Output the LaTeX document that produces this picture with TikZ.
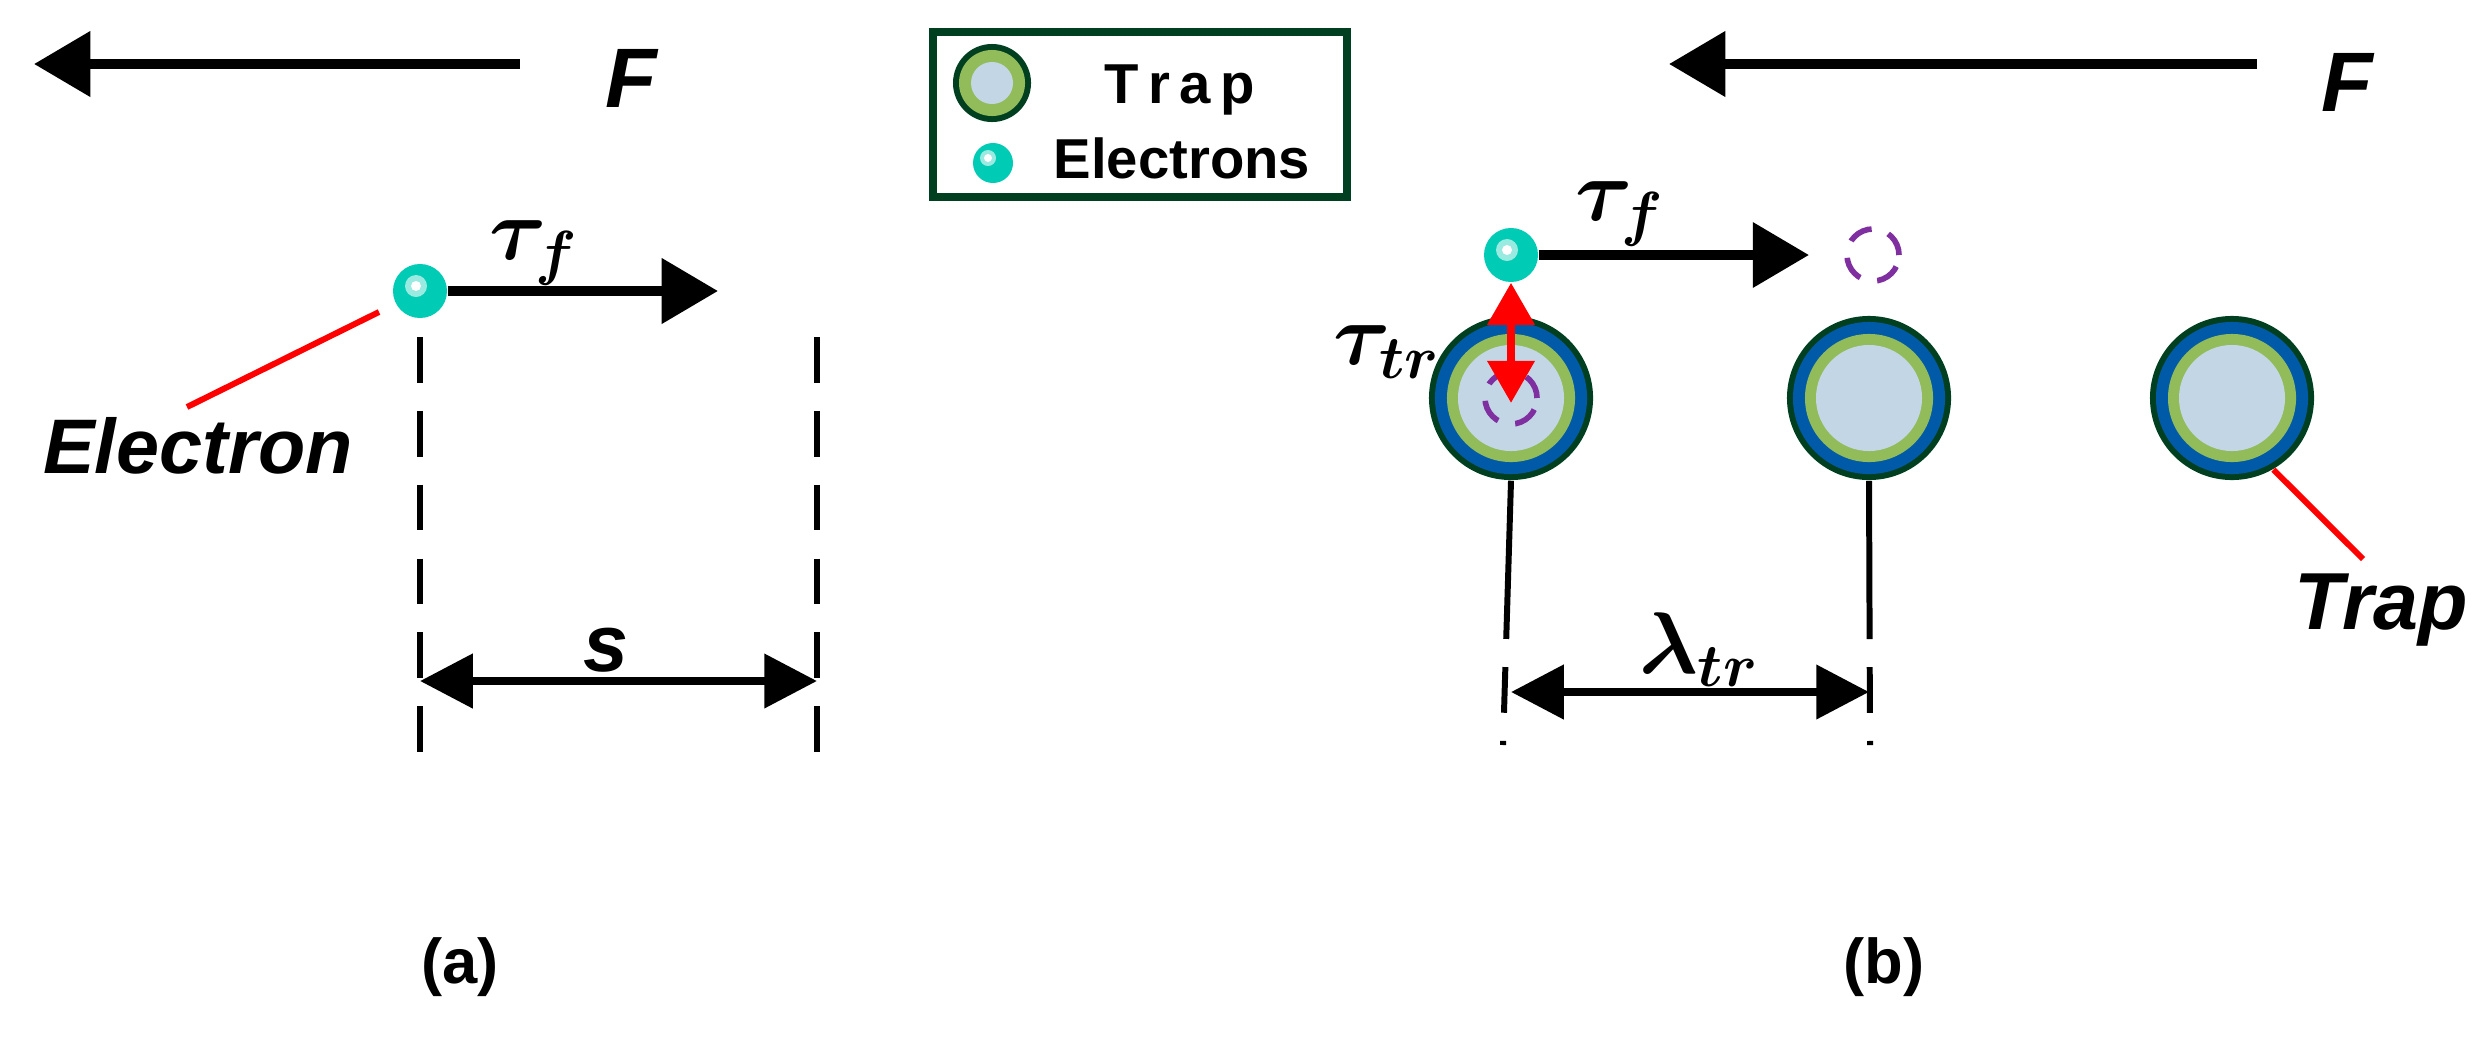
\documentclass[tikz,border=0pt]{standalone}
\usepackage{fontspec}
\usepackage{amsmath,bm}
\setmainfont{Liberation Sans}
\usetikzlibrary{arrows.meta}
\definecolor{dkg}{HTML}{004020}
\definecolor{tblue}{HTML}{005AA8}
\definecolor{tgreen}{HTML}{92BB5A}
\definecolor{tcore}{HTML}{C3D6E6}
\definecolor{teal}{HTML}{00CBB5}
\definecolor{purp}{HTML}{7F2FA0}
\begin{document}
\begin{tikzpicture}[x=0.01cm,y=-0.01cm,
  big/.style={line width=2.8pt,-{Triangle[length=16pt,width=18pt]}},
  dim/.style={line width=2.4pt,{Triangle[length=15pt,width=15pt]}-{Triangle[length=15pt,width=15pt]}},
  redarr/.style={red,line width=2.4pt,{Triangle[length=12pt,width=13pt]}-{Triangle[length=12pt,width=13pt]}},
  guide/.style={line width=1.7pt,dash pattern=on 13pt off 8pt},
  lead/.style={red,line width=1.7pt},
  elec/.style={circle,fill=teal,inner sep=0pt,minimum size=0.54cm},
  trapn/.style={circle,fill=dkg,inner sep=0pt,minimum size=1.64cm},
  ghost/.style={purp,line width=1.6pt,dash pattern=on 7pt off 5pt},
  lab/.style={font=\bfseries\itshape\fontsize{23}{26}\selectfont},
  leg/.style={font=\bfseries\fontsize{16}{18}\selectfont},
  mlab/.style={font=\fontsize{24}{28}\selectfont}]
\useasboundingbox (0,0) rectangle (2482,1036);
% ---------- F arrows ----------
\coordinate (fa1) at (520,64); \coordinate (fa2) at (34,64);
\draw[big] (fa1) -- (fa2);
\node[lab,font=\bfseries\itshape\fontsize{24}{28}\selectfont] (Fa) at (631,78) {F};
\coordinate (fb1) at (2257,64); \coordinate (fb2) at (1669,64);
\draw[big] (fb1) -- (fb2);
\node[lab,font=\bfseries\itshape\fontsize{24}{28}\selectfont] (Fb) at (2347,82) {F};
% ---------- legend ----------
\draw[dkg,line width=2.2pt] (933,32) rectangle (1347,197);
\node[circle,fill=dkg,inner sep=0pt,minimum size=0.78cm] (lt) at (992,83) {};
\fill[tgreen] (lt.center) circle (0.33cm);
\fill[tcore] (lt.center) circle (0.21cm);
\node[leg] (ltt) at (1180,90) {T\,r\,a\,p};
\node[circle,fill=teal,inner sep=0pt,minimum size=0.40cm] (le) at (993,163) {};
\fill[teal!40!white] ([shift={(-0.05cm,0.05cm)}]le.center) circle (0.08cm);
\fill[white] ([shift={(-0.05cm,0.05cm)}]le.center) circle (0.04cm);
\node[leg] (let) at (1182,158) {Electrons};
% ---------- (a) ----------
\node[elec] (ea) at (420,291) {};
\fill[teal!40!white] ([shift={(-0.04cm,0.05cm)}]ea.center) circle (0.11cm);
\fill[white] ([shift={(-0.04cm,0.05cm)}]ea.center) circle (0.05cm);
\coordinate (taend) at (718,291);
\draw[big] (ea.east) -- (taend);
\node[mlab] (tfa) at (534,253) {$\bm{\tau}_{\bm{f}}$};
\coordinate (lea1) at (379,312); \coordinate (lea2) at (187,407);
\draw[lead] (lea1) -- (lea2);
\node[lab,font=\bfseries\itshape\fontsize{22}{26}\selectfont] (elab) at (198,446) {Electron};
\coordinate (ga1) at (420,337); \coordinate (ga2) at (420,760);
\coordinate (gb1) at (817,337); \coordinate (gb2) at (817,760);
\draw[guide] (ga1) -- (ga2);
\draw[guide] (gb1) -- (gb2);
\coordinate (sa) at (420,681); \coordinate (sb) at (817,681);
\draw[dim] (sa) -- (sb);
\node[lab] (slab) at (606,650) {s};
\node[font=\bfseries\fontsize{18}{20}\selectfont] (la) at (460,967) {(a)};
% ---------- (b) ----------
\foreach \n/\x in {t1/1511,t2/1869,t3/2232}{
  \node[trapn] (\n) at (\x,398) {};
  \fill[tblue] (\n.center) circle (0.76cm);
  \fill[tgreen] (\n.center) circle (0.64cm);
  \fill[tcore] (\n.center) circle (0.53cm);
}
\draw[ghost] (t1.center) circle (0.26cm);
\node[elec] (eb) at (1511,255) {};
\fill[teal!40!white] ([shift={(-0.04cm,0.05cm)}]eb.center) circle (0.11cm);
\fill[white] ([shift={(-0.04cm,0.05cm)}]eb.center) circle (0.05cm);
\coordinate (tbend) at (1809,255);
\draw[big] (eb.east) -- (tbend);
\node[mlab] (tfb) at (1620,214) {$\bm{\tau}_{\bm{f}}$};
\node[circle,inner sep=0pt,minimum size=0.52cm] (gh) at (1873,255) {};
\draw[ghost] (gh.center) circle (0.26cm);
\coordinate (rb) at (1511,403);
\draw[redarr] (eb.south) -- (rb);
\node[mlab] (ttr) at (1387,352) {$\bm{\tau}_{\bm{tr}}$};
\coordinate (l1b) at (1503,745); \coordinate (l2b) at (1870,745);
\draw[guide,dash pattern=on 45pt off 8pt on 13pt off 8pt on 13pt off 8pt on 13pt off 8pt on 13pt off 8pt] (t1.south) -- (l1b);
\draw[guide,dash pattern=on 45pt off 8pt on 13pt off 8pt on 13pt off 8pt on 13pt off 8pt on 13pt off 8pt] (t2.south) -- (l2b);
\coordinate (la1) at (1511,692); \coordinate (la2) at (1869,692);
\draw[dim] (la1) -- (la2);
\node[mlab] (lam) at (1699,650) {$\bm{\lambda}_{\bm{tr}}$};
\draw[lead] (t3.-60) -- (2363,559);
\node[lab] (tlab) at (2381,610) {Trap};
\node[font=\bfseries\fontsize{18}{20}\selectfont] (lb) at (1884,967) {(b)};
\end{tikzpicture}
\end{document}
